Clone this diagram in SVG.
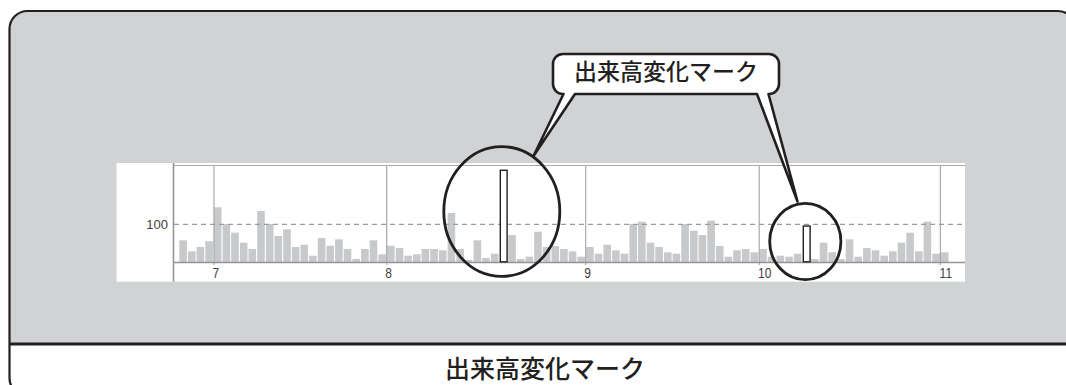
<svg xmlns="http://www.w3.org/2000/svg" width="1066" height="385" viewBox="0 0 1066 385">
<style>
.bar{fill:#c8c9cb}
.grid{stroke:#a7a9ac;stroke-width:1.2;fill:none}
.axis{stroke:#939598;stroke-width:1.6;fill:none}
.dash{stroke:#9a9b9d;stroke-width:1.2;stroke-dasharray:5 4;fill:none}
.mark{fill:#fff;stroke:#231f20;stroke-width:1.4}
.ring{fill:none;stroke:#231f20;stroke-width:2.8}
.lbl{font-family:"Liberation Sans",Arial,sans-serif;fill:#414042}
.jp{font-family:"Noto Sans CJK JP","Noto Sans",sans-serif;fill:#231f20;font-weight:500}
</style>
<g id="frame">
<clipPath id="fc"><rect x="9.5" y="11" width="1066" height="385" rx="18"/></clipPath>
<g clip-path="url(#fc)">
<rect x="9.5" y="11" width="1066" height="333" fill="#d1d2d4"/>
<rect x="9.5" y="344" width="1066" height="52" fill="#ffffff"/>
</g>
<line x1="9.5" y1="344" x2="1075.5" y2="344" stroke="#231f20" stroke-width="2.8"/>
<rect x="9.5" y="11" width="1066" height="385" rx="18" fill="none" stroke="#231f20" stroke-width="2.2"/>
</g>
<g id="chart">
<rect x="116.5" y="163" width="848.5" height="118.7" fill="#ffffff"/>
<g id="bars">
<rect class="bar" x="179.3" y="240.3" width="7.6" height="21.7"/>
<rect class="bar" x="188.0" y="251.3" width="7.6" height="10.7"/>
<rect class="bar" x="196.6" y="247" width="7.6" height="15"/>
<rect class="bar" x="205.3" y="241.3" width="7.6" height="20.7"/>
<rect class="bar" x="213.9" y="207.3" width="7.6" height="54.7"/>
<rect class="bar" x="222.6" y="224" width="7.6" height="38"/>
<rect class="bar" x="231.2" y="232.7" width="7.6" height="29.3"/>
<rect class="bar" x="239.9" y="242.7" width="7.6" height="19.3"/>
<rect class="bar" x="248.5" y="249" width="7.6" height="13"/>
<rect class="bar" x="257.2" y="211" width="7.6" height="51"/>
<rect class="bar" x="265.9" y="224" width="7.6" height="38"/>
<rect class="bar" x="274.5" y="236" width="7.6" height="26"/>
<rect class="bar" x="283.2" y="229.3" width="7.6" height="32.7"/>
<rect class="bar" x="291.8" y="247" width="7.6" height="15"/>
<rect class="bar" x="300.5" y="244.7" width="7.6" height="17.3"/>
<rect class="bar" x="309.1" y="255.7" width="7.6" height="6.3"/>
<rect class="bar" x="317.8" y="238" width="7.6" height="24"/>
<rect class="bar" x="326.4" y="245.7" width="7.6" height="16.3"/>
<rect class="bar" x="335.1" y="239.3" width="7.6" height="22.7"/>
<rect class="bar" x="343.7" y="249" width="7.6" height="13"/>
<rect class="bar" x="352.4" y="259" width="7.6" height="3"/>
<rect class="bar" x="361.1" y="249" width="7.6" height="13"/>
<rect class="bar" x="369.7" y="240.3" width="7.6" height="21.7"/>
<rect class="bar" x="378.4" y="254.3" width="7.6" height="7.7"/>
<rect class="bar" x="387.0" y="245.7" width="7.6" height="16.3"/>
<rect class="bar" x="395.7" y="248" width="7.6" height="14"/>
<rect class="bar" x="404.3" y="255.7" width="7.6" height="6.3"/>
<rect class="bar" x="413.0" y="254.3" width="7.6" height="7.7"/>
<rect class="bar" x="421.6" y="249" width="7.6" height="13"/>
<rect class="bar" x="430.3" y="249" width="7.6" height="13"/>
<rect class="bar" x="438.9" y="250.3" width="7.6" height="11.7"/>
<rect class="bar" x="447.6" y="213" width="7.6" height="49"/>
<rect class="bar" x="456.3" y="249" width="7.6" height="13"/>
<rect class="bar" x="464.9" y="260" width="7.6" height="2"/>
<rect class="bar" x="473.6" y="240.3" width="7.6" height="21.7"/>
<rect class="bar" x="482.2" y="258" width="7.6" height="4"/>
<rect class="bar" x="490.9" y="253.7" width="7.6" height="8.3"/>
<rect class="bar" x="508.2" y="235" width="7.6" height="27"/>
<rect class="bar" x="516.8" y="259" width="7.6" height="3"/>
<rect class="bar" x="525.5" y="256.7" width="7.6" height="5.3"/>
<rect class="bar" x="534.2" y="231.7" width="7.6" height="30.3"/>
<rect class="bar" x="542.8" y="247" width="7.6" height="15"/>
<rect class="bar" x="551.5" y="246" width="7.6" height="16"/>
<rect class="bar" x="560.1" y="249" width="7.6" height="13"/>
<rect class="bar" x="568.8" y="251.3" width="7.6" height="10.7"/>
<rect class="bar" x="577.4" y="256.7" width="7.6" height="5.3"/>
<rect class="bar" x="586.1" y="247" width="7.6" height="15"/>
<rect class="bar" x="594.7" y="253.7" width="7.6" height="8.3"/>
<rect class="bar" x="603.4" y="244.7" width="7.6" height="17.3"/>
<rect class="bar" x="612.1" y="250.3" width="7.6" height="11.7"/>
<rect class="bar" x="620.7" y="253.7" width="7.6" height="8.3"/>
<rect class="bar" x="629.4" y="224" width="7.6" height="38"/>
<rect class="bar" x="638.0" y="221.7" width="7.6" height="40.3"/>
<rect class="bar" x="646.7" y="242.7" width="7.6" height="19.3"/>
<rect class="bar" x="655.3" y="247" width="7.6" height="15"/>
<rect class="bar" x="664.0" y="252.3" width="7.6" height="9.7"/>
<rect class="bar" x="672.6" y="253.7" width="7.6" height="8.3"/>
<rect class="bar" x="681.3" y="224" width="7.6" height="38"/>
<rect class="bar" x="690.0" y="230.7" width="7.6" height="31.3"/>
<rect class="bar" x="698.6" y="235" width="7.6" height="27"/>
<rect class="bar" x="707.3" y="220.7" width="7.6" height="41.3"/>
<rect class="bar" x="715.9" y="246" width="7.6" height="16"/>
<rect class="bar" x="724.6" y="256.7" width="7.6" height="5.3"/>
<rect class="bar" x="733.2" y="250.3" width="7.6" height="11.7"/>
<rect class="bar" x="741.9" y="249" width="7.6" height="13"/>
<rect class="bar" x="750.5" y="252.3" width="7.6" height="9.7"/>
<rect class="bar" x="759.2" y="249" width="7.6" height="13"/>
<rect class="bar" x="767.8" y="256.7" width="7.6" height="5.3"/>
<rect class="bar" x="776.5" y="255.7" width="7.6" height="6.3"/>
<rect class="bar" x="785.2" y="256.7" width="7.6" height="5.3"/>
<rect class="bar" x="793.8" y="253.7" width="7.6" height="8.3"/>
<rect class="bar" x="811.1" y="259" width="7.6" height="3"/>
<rect class="bar" x="819.8" y="242.7" width="7.6" height="19.3"/>
<rect class="bar" x="828.4" y="252.3" width="7.6" height="9.7"/>
<rect class="bar" x="837.1" y="259" width="7.6" height="3"/>
<rect class="bar" x="845.7" y="239.3" width="7.6" height="22.7"/>
<rect class="bar" x="854.4" y="256.7" width="7.6" height="5.3"/>
<rect class="bar" x="863.1" y="248" width="7.6" height="14"/>
<rect class="bar" x="871.7" y="250.3" width="7.6" height="11.7"/>
<rect class="bar" x="880.4" y="255.7" width="7.6" height="6.3"/>
<rect class="bar" x="889.0" y="251.3" width="7.6" height="10.7"/>
<rect class="bar" x="897.7" y="242.7" width="7.6" height="19.3"/>
<rect class="bar" x="906.3" y="232.7" width="7.6" height="29.3"/>
<rect class="bar" x="915.0" y="251.3" width="7.6" height="10.7"/>
<rect class="bar" x="923.6" y="221.7" width="7.6" height="40.3"/>
<rect class="bar" x="932.3" y="253.7" width="7.6" height="8.3"/>
<rect class="bar" x="940.9" y="252.3" width="7.6" height="9.7"/>
</g>
<g id="gridlines">
<line class="grid" x1="214" y1="165.5" x2="214" y2="265"/>
<line class="grid" x1="386.7" y1="165.5" x2="386.7" y2="265"/>
<line class="grid" x1="585.7" y1="165.5" x2="585.7" y2="265"/>
<line class="grid" x1="759.2" y1="165.5" x2="759.2" y2="265"/>
<line class="grid" x1="940.4" y1="165.5" x2="940.4" y2="265"/>
<line class="dash" x1="174" y1="224.3" x2="965" y2="224.3"/>
<line class="grid" x1="173.5" y1="165.5" x2="965" y2="165.5" stroke-width="1.6"/>
<line class="axis" x1="173.5" y1="262.5" x2="965" y2="262.5"/>
<line class="axis" x1="173.5" y1="163" x2="173.5" y2="281.7"/>
</g>
<g id="marks">
<rect class="mark" x="500.3" y="170.3" width="6.8" height="91.5"/>
<rect class="mark" x="803.3" y="226" width="6.8" height="35.8"/>
</g>
<g id="labels">
<text class="lbl" x="168" y="229" font-size="13" text-anchor="end">100</text>
<text class="lbl" font-size="15" transform="translate(212.5 277.6) scale(0.8 1)">7</text>
<text class="lbl" font-size="15" transform="translate(385.2 277.6) scale(0.8 1)">8</text>
<text class="lbl" font-size="15" transform="translate(584.2 277.6) scale(0.8 1)">9</text>
<text class="lbl" font-size="15" transform="translate(758 277.6) scale(0.8 1)">10</text>
<text class="lbl" font-size="15" transform="translate(939.6 277.6) scale(0.8 1)">11</text>
</g>
</g>
<g id="highlight-1">
<ellipse class="ring" cx="501.8" cy="211.5" rx="58" ry="64.8"/>
</g>
<g id="highlight-2">
<ellipse class="ring" cx="805.3" cy="241.5" rx="35.6" ry="38.1"/>
</g>
<g id="callout">
<path d="M563,54 H769 A10,10 0 0 1 779,64 V84 A10,10 0 0 1 769,94 H768.5 L797.5,201.5 L757,94 H575 L533.5,156 L563.5,94 H563 A10,10 0 0 1 553,84 V64 A10,10 0 0 1 563,54 Z" fill="#ffffff" stroke="#231f20" stroke-width="2.6" stroke-linejoin="round"/>
<text class="jp" x="666" y="80" font-size="23" text-anchor="middle">出来高変化マーク</text>
</g>
<g id="caption">
<text class="jp" x="545" y="378" font-size="25" text-anchor="middle">出来高変化マーク</text>
</g>
</svg>
